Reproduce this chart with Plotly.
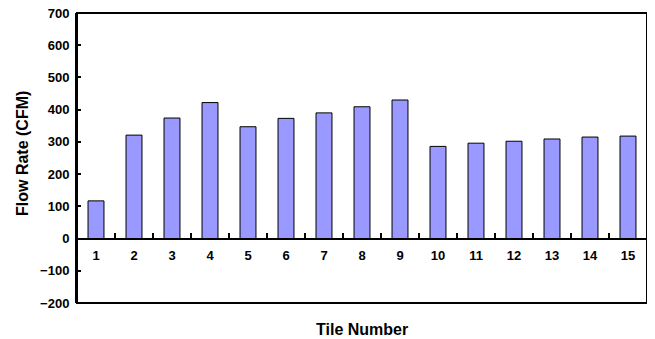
import plotly.graph_objects as go

tiles = [str(i) for i in range(1, 16)]
flow_cfm = [117, 321, 374, 422, 347, 373, 390, 409, 430, 286, 296, 302, 309, 315, 318]
y_ticks = list(range(-200, 701, 100))

FONT = "Liberation Sans, Arial, sans-serif"
y_min, y_max = -200, 700

# the page body adds an 8px margin on the left and top; compensate
PAGE_OFF = 8

fig = go.Figure()
fig.add_trace(go.Bar(
    x=tiles, y=flow_cfm,
    marker=dict(color="#9999FF", line=dict(color="black", width=1)),
    width=0.42,
))

zero_pos = (0 - y_min) / (y_max - y_min)

fig.update_layout(
    width=655 - PAGE_OFF, height=339 - PAGE_OFF,
    margin=dict(l=77 - PAGE_OFF, r=8, t=13 - PAGE_OFF, b=36, autoexpand=False),
    paper_bgcolor="white", plot_bgcolor="white",
    showlegend=False,
    font=dict(family=FONT, color="black"),
    xaxis=dict(
        type="category",
        anchor="free", position=zero_pos,
        showline=True, linecolor="black", linewidth=2,
        ticks="inside", tickson="boundaries", ticklen=5, tickwidth=2, tickcolor="black",
        tickfont=dict(size=13, family=FONT, weight="bold"),
        ticklabelstandoff=5, ticklabeloverflow="allow",
        showgrid=False, zeroline=False,
        range=[-0.5, 14.5],
    ),
    yaxis=dict(
        range=[y_min, y_max],
        tickvals=y_ticks,
        ticks="inside", ticklen=4, tickwidth=2, tickcolor="black",
        tickfont=dict(size=13, family=FONT, weight="bold"),
        ticklabelstandoff=3, ticklabeloverflow="allow",
        showline=True, linecolor="black", linewidth=2, mirror=True,
        showgrid=False, zeroline=False,
    ),
    shapes=[dict(type="rect", xref="paper", yref="paper", x0=0, x1=1, y0=0, y1=1,
                 line=dict(color="black", width=2), layer="above")],
    annotations=[
        dict(text="Tile Number", xref="paper", yref="paper", x=0.5, y=0,
             yshift=-26, yanchor="middle", showarrow=False,
             font=dict(size=16, family=FONT, weight="bold")),
        dict(text="Flow Rate (CFM)", xref="paper", yref="paper", x=0, y=0.5,
             xshift=-55, xanchor="center", yanchor="middle", textangle=-90,
             yshift=4, showarrow=False,
             font=dict(size=16, family=FONT, weight="bold")),
    ],
)

fig.write_html("out.html")
